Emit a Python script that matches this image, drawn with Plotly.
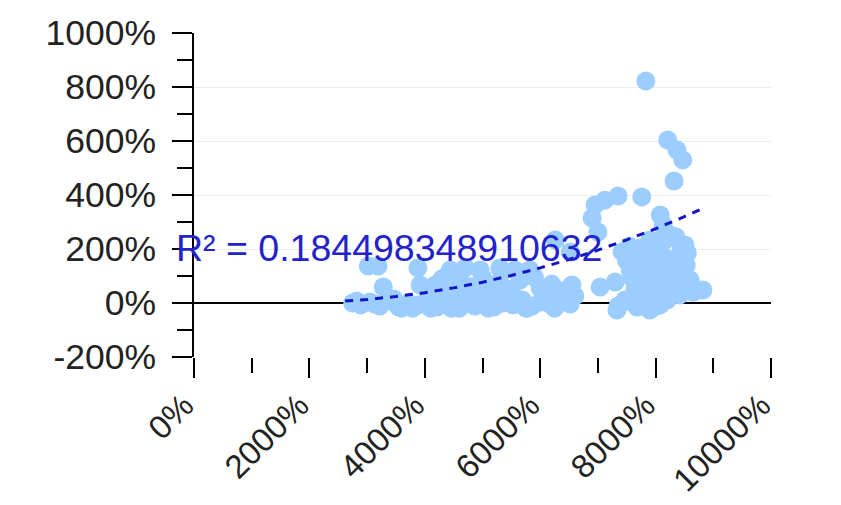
import plotly.graph_objects as go

# scatter values (fractions: 1.0 = 100%)
x_vals = [
    27.5, 28.9, 30.5, 32.2, 33.8, 35.5, 37.1, 38.8, 40.4, 42.1, 43.7, 45.4, 47.0, 48.7,
    50.3, 52.0, 53.6, 55.3, 56.9, 58.6, 60.2, 61.9, 63.5, 65.2, 73.5, 75.2, 76.8, 78.5,
    80.1, 81.3, 36.0, 41.0, 46.0, 51.0, 57.5, 62.5,
    28.2, 31.3, 34.6, 37.9, 41.3, 44.6, 47.9, 51.2, 54.5, 57.8, 61.1, 64.4, 66.0,
    30.2, 31.9, 32.8, 38.8, 39.2, 41.8, 44.4, 47.0, 49.6, 51.3, 53.0, 55.6, 58.2, 60.0,
    62.6, 65.2, 65.5, 48.7, 45.2, 54.8, 43.0, 46.0, 50.0, 53.0, 56.5, 59.0, 62.0, 64.0,
    42.5, 48.0, 52.0, 55.0, 60.5, 63.0, 44.0, 57.0,
    78.3, 82.1, 83.7, 84.7, 83.2, 69.5, 71.2, 73.5, 77.6, 69.0, 70.0, 80.8, 81.3, 70.4,
    88.2, 74.2, 73.0, 75.6, 77.3, 79.0, 80.8, 82.5, 84.4, 85.3, 86.0, 83.4, 80.8, 78.2,
    79.9, 82.5, 84.2, 76.4, 74.7, 77.3, 79.0, 73.3, 80.8, 82.0, 81.6, 85.1,
    76.0, 78.0, 79.5, 81.0, 83.0, 84.8, 75.0, 77.0, 79.0, 81.5, 83.5, 76.5, 78.5, 80.5,
    82.5, 84.0, 86.5, 75.5, 77.5, 79.5, 81.5, 83.5, 85.5,
]
y_vals = [
    0.00, -0.07, 0.04, -0.11, 0.07, -0.15, 0.00, -0.07, 0.11, -0.15, 0.04, -0.07, 0.11, -0.11,
    0.07, -0.15, 0.00, -0.07, 0.11, -0.11, 0.04, -0.07, 0.15, -0.04, -0.11, 0.07, -0.15, 0.04,
    -0.11, 0.07, -0.19, -0.19, -0.19, -0.19, -0.19, -0.19,
    0.07, -0.04, 0.15, -0.19, 0.19, -0.19, 0.22, -0.04, 0.19, -0.19, 0.19, 0.07, 0.26,
    1.37, 1.37, 0.59, 1.30, 0.67, 0.67, 1.22, 1.30, 1.22, 0.67, 1.30, 1.22, 1.22, 0.56,
    2.33, 1.89, 0.67, 0.48, 0.41, 0.30, 0.90, 0.85, 0.95, 0.80, 0.85, 0.95, 0.70, 0.45,
    0.45, 0.60, 0.55, 0.50, 0.35, 0.30, 1.05, 1.05,
    8.22, 6.04, 5.67, 5.30, 4.52, 3.63, 3.81, 3.96, 3.93, 3.15, 2.63, 3.26, 2.89, 0.59,
    0.48, 1.89, 0.78, 1.22, 1.78, 2.33, 2.15, 2.52, 1.96, 1.41, 0.85, 1.22, 1.41, 1.04,
    0.67, 0.48, 0.30, 0.48, 0.11, -0.07, -0.26, -0.26, -0.07, 0.11, 2.63, 2.15,
    0.90, 0.80, 1.15, 0.95, 0.90, 0.70, 1.55, 1.40, 1.60, 1.70, 1.60, 0.25, 0.30, 0.35,
    0.25, 0.55, 0.40, 2.10, 2.05, 2.00, 2.30, 2.45, 1.85,
]

# trend line
trend_x = [26.2, 30, 35, 40, 45, 50, 55, 60, 65, 70, 75, 80, 85, 88.6]
trend_y = [0.07, 0.13, 0.24, 0.38, 0.56, 0.77, 1.02, 1.30, 1.61, 1.96, 2.34, 2.75, 3.20, 3.54]

y_tick_vals = [-2, 0, 2, 4, 6, 8, 10]
y_tick_text = ["-200%", "0%", "200%", "400%", "600%", "800%", "1000%"]
x_tick_vals = [0, 20, 40, 60, 80, 100]
x_tick_text = ["0%", "2000%", "4000%", "6000%", "8000%", "10000%"]
r2_text = "R² = 0.184498348910632"

font_family = "Liberation Sans, Arial, sans-serif"

fig = go.Figure()
fig.add_trace(go.Scatter(
    x=x_vals, y=y_vals, mode="markers",
    marker=dict(size=19, color="#9ccdff", line=dict(width=0)),
    showlegend=False, hoverinfo="skip",
))
fig.add_trace(go.Scatter(
    x=trend_x, y=trend_y, mode="lines",
    line=dict(color="#1414c8", width=3, dash="8px,7px"),
    showlegend=False, hoverinfo="skip",
))
fig.add_annotation(
    x=-0.034, y=0.336, xref="paper", yref="paper", text=r2_text, showarrow=False,
    xanchor="left", yanchor="middle",
    font=dict(family=font_family, size=37.5, color="#2323cc"),
)

fig.update_layout(
    width=841, height=505,
    margin=dict(l=186, r=78, t=25, b=156),
    paper_bgcolor="white", plot_bgcolor="white",
    font=dict(family=font_family, size=33, color="#222222"),
)
fig.update_xaxes(
    range=[0, 100], tickmode="array", tickvals=x_tick_vals, ticktext=x_tick_text,
    tickangle=-45, ticks="outside", ticklen=20, tickwidth=1.5, tickcolor="black",
    minor=dict(tick0=0, dtick=10, ticks="outside", ticklen=15, tickwidth=1.5,
               tickcolor="black", showgrid=False),
    showgrid=False, zeroline=False, showline=False,
    ticklabelstandoff=-5, ticklabelshift=-10,
    tickfont=dict(size=33), automargin=False,
)
fig.update_yaxes(
    range=[-2, 10], tickmode="array", tickvals=y_tick_vals, ticktext=y_tick_text,
    ticks="outside", ticklen=20, tickwidth=1.5, tickcolor="black",
    minor=dict(tick0=0, dtick=1, ticks="outside", ticklen=15, tickwidth=1.5,
               tickcolor="black", showgrid=False),
    showgrid=True, gridcolor="#ececec", gridwidth=1,
    zeroline=True, zerolinecolor="black", zerolinewidth=1.5,
    showline=True, linecolor="black", linewidth=1.5,
    ticklabelstandoff=9, tickfont=dict(size=35.5), automargin=False,
)

fig.write_html("out.html")
